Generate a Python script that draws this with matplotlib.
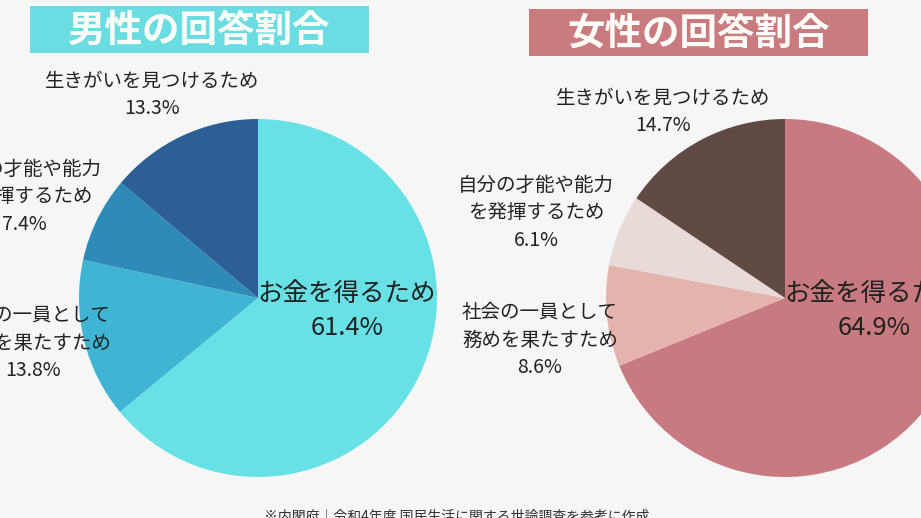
import matplotlib
matplotlib.use("Agg")
import matplotlib.pyplot as plt
from matplotlib.patches import Rectangle

plt.rcParams['font.family'] = ['Noto Sans CJK JP', 'DejaVu Sans']

# ---- data ----
categories = ["お金を得るため", "社会の一員として\n務めを果たすため",
              "自分の才能や能力\nを発揮するため", "生きがいを見つけるため"]
male_values = [61.4, 13.8, 7.4, 13.3]
female_values = [64.9, 8.6, 6.1, 14.7]
male_title = "男性の回答割合"
female_title = "女性の回答割合"
footnote = "※内閣府｜令和4年度 国民生活に関する世論調査を参考に作成"

male_colors = ["#68E1E6", "#40B5D3", "#2E8BB9", "#2C5F96"]
female_colors = ["#C87A80", "#E5B3AD", "#E8DAD7", "#614A45"]

W, H = 921, 518
BG = "#F6F6F6"
fig = plt.figure(figsize=(W / 100, H / 100), dpi=100, facecolor=BG)
ax = fig.add_axes([0, 0, 1, 1])
ax.set_facecolor(BG)

def py(y):
    return H - y

R = 179
for cx, vals, cols in [(258, male_values, male_colors), (785, female_values, female_colors)]:
    ax.pie(vals, colors=cols, startangle=90, counterclock=False,
           center=(cx, py(298)), radius=R, frame=True,
           wedgeprops=dict(linewidth=0))
ax.set_xlim(0, W)
ax.set_ylim(0, H)
ax.set_aspect('equal')
ax.axis('off')

# title boxes
for x0, x1, y0, y1, col, title in [(30, 369, 6, 53, "#6ADDE3", male_title),
                                    (529, 868, 9, 56, "#C97B80", female_title)]:
    ax.add_patch(Rectangle((x0, py(y1)), x1 - x0, y1 - y0, facecolor=col,
                           edgecolor='none', zorder=5))
    ax.text((x0 + x1) / 2, py((y0 + y1) / 2) - 1, title, color="#FFFDF7",
            fontsize=27, fontweight='bold', ha='center', va='center', zorder=6)

def fmt(v):
    return f"{v:.1f}%"

TXT = "#222222"
# labels: (category index, x, y of center of block, fontsize)
label_pos_m = [(0, 347, 311, 18.4), (1, 33, 343, 14), (2, 24, 197, 14), (3, 152, 95, 14)]
label_pos_f = [(0, 874, 311, 18.4), (1, 540, 340, 14), (2, 536, 213, 14), (3, 663, 112, 14)]
for vals, pos in [(male_values, label_pos_m), (female_values, label_pos_f)]:
    for i, x, y, fs in pos:
        ax.text(x, py(y), categories[i] + "\n" + fmt(vals[i]), ha='center',
                va='center', fontsize=fs, color=TXT, linespacing=1.4, zorder=7)

ax.text(457, py(509), footnote, ha='center', va='top', fontsize=10,
        color="#333333", zorder=7)

fig.savefig("out.png", dpi=100, facecolor=BG)
